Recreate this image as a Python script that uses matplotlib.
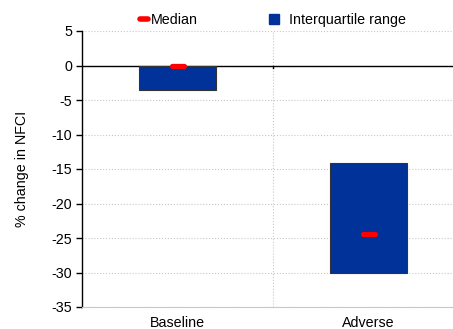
import matplotlib.pyplot as plt
from matplotlib.lines import Line2D
from matplotlib.markers import MarkerStyle
import numpy as np

plt.rcParams['font.family'] = ['Liberation Sans', 'DejaVu Sans']
plt.rcParams['axes.unicode_minus'] = False

categories = ["Baseline", "Adverse"]
q_low = [-3.6, -30.0]
q_high = [0.0, -14.1]
medians = [0.0, -24.4]

fs = 10.3
blue = "#003299"
red = "#ff0000"

fig = plt.figure(figsize=(4.53, 3.29), dpi=100)
ax = fig.add_axes([82 / 453, 1 - 307 / 329, (453 - 82) / 453, 276 / 329])

x = np.arange(len(categories))
heights = [h - l for h, l in zip(q_high, q_low)]
ax.bar(x, heights, bottom=q_low, width=0.4, color=blue,
       edgecolor="#333333", linewidth=0.8, zorder=3)
ax.plot(x, medians, linestyle="none",
        marker=MarkerStyle("_", capstyle="round"), markersize=9,
        markeredgewidth=3.8, color=red, zorder=4)

ax.set_ylim(-35, 5)
ax.set_xlim(-0.5, (453 - 82) / 191 - 0.5)
ax.set_yticks(np.arange(-35, 6, 5))
ax.set_xticks(x)
ax.set_xticklabels(categories)
ax.tick_params(axis="x", length=0, labelsize=fs, pad=6.5)
ax.tick_params(axis="y", direction="out", length=4, width=1, labelsize=fs, pad=3)

ax.grid(axis="y", color="#c8c8c8", linestyle=":", linewidth=0.8, zorder=0)
ax.axvline(0.5, color="#c8c8c8", linestyle=":", linewidth=0.8, zorder=0)
ax.axhline(0, color="black", linewidth=1.0, zorder=2)
ax.plot([0.5, 0.5], [0, -0.35], color="black", linewidth=1.0, zorder=2)

for s in ["top", "right"]:
    ax.spines[s].set_visible(False)
ax.spines["bottom"].set_color("#c8c8c8")
ax.spines["bottom"].set_linewidth(0.8)
ax.spines["left"].set_linewidth(1.0)

ax.set_ylabel("% change in NFCI", fontsize=fs, labelpad=16)

# legend: two separate entries so each can sit where the original has it
med_handle = Line2D([], [], color=red, linewidth=4, solid_capstyle="round")
iqr_handle = Line2D([], [], linestyle="none", marker="s", markersize=6.5,
                    color=blue)
fig.legend([med_handle], ["Median"], loc="center left",
           bbox_to_anchor=(140 / 453, 1 - 20 / 329), frameon=False,
           fontsize=fs, handlelength=0.55, handletextpad=0.2,
           borderpad=0, borderaxespad=0)
fig.legend([iqr_handle], ["Interquartile range"], loc="center left",
           bbox_to_anchor=(268 / 453, 1 - 20 / 329), frameon=False,
           fontsize=fs, handlelength=0.9, handletextpad=0.55,
           borderpad=0, borderaxespad=0)

fig.savefig("out.png", dpi=100)
